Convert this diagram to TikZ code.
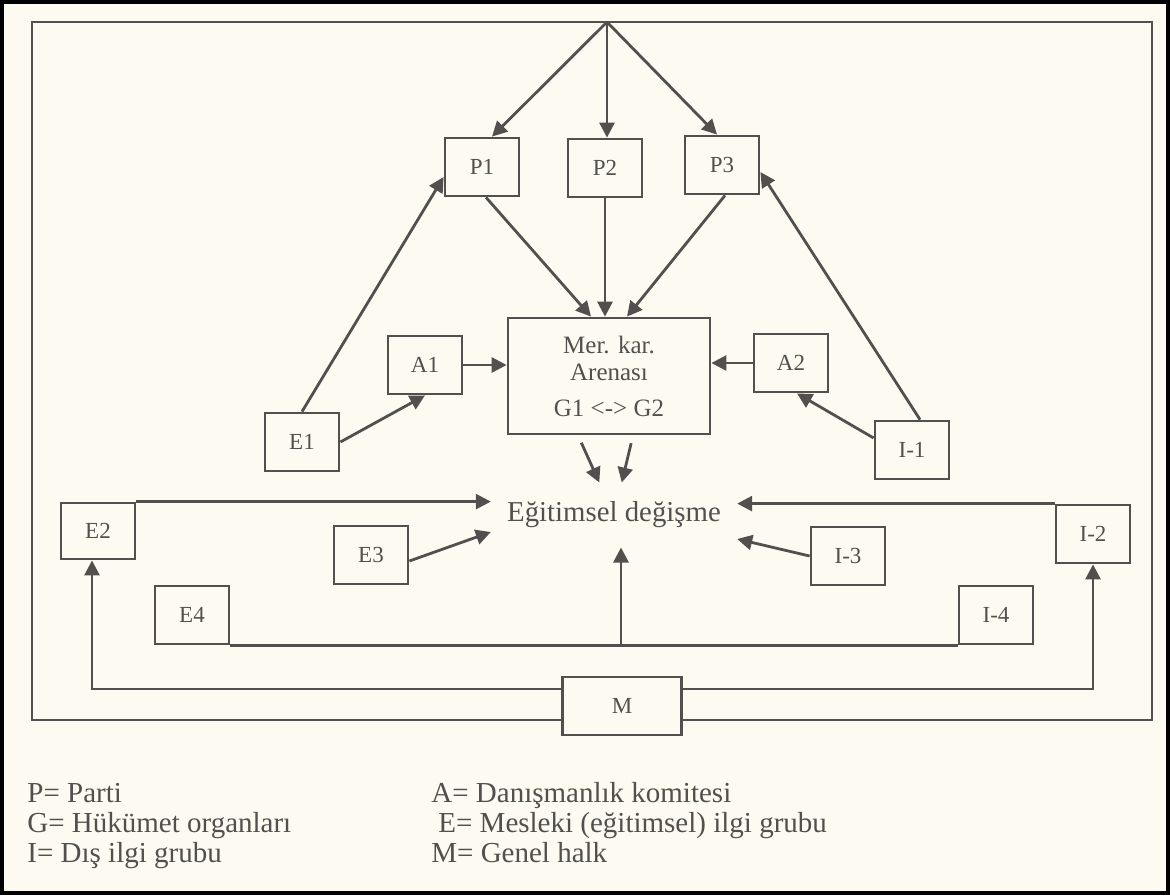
\documentclass[tikz,border=0pt]{standalone}
\usepackage{fontspec}
\setmainfont{Liberation Serif}
\usetikzlibrary{arrows.meta}
\usetikzlibrary{calc}

\definecolor{paper}{RGB}{253,251,241}
\definecolor{ink}{RGB}{82,80,78}

\begin{document}
\begin{tikzpicture}[
      x=0.5pt, y=-0.5pt,
      >={Triangle[length=7.5pt, width=7.5pt]},
      line width=1.4pt,
      grp/.style = {
        rectangle, draw=ink, fill=paper, text=ink,
        minimum width=37pt, minimum height=29pt,
        inner sep=0pt, font=\fontsize{11.5}{13}\selectfont
      },
      link/.style = { ink, -> },
      legend/.style = {
        text=ink, anchor=base west, inner sep=0pt,
        font=\fontsize{14.5}{17}\selectfont
      },
    ]

    \useasboundingbox (0,0) rectangle (1170,895);
    \fill[paper] (0,0) rectangle (1170,895);
    \draw[black, line width=2pt] (2,2) rectangle (1168,893);

    % outer frame of the system
    \draw[ink] (32,22) rectangle (1152,720);
    \coordinate (apex) at (607,22);

    \node[grp] (P1) at (482,167) {P1};
    \node[grp] (P2) at (605,168) {P2};
    \node[grp] (P3) at (722,165) {P3};

    \node[grp, minimum width=101pt, minimum height=58pt, align=center,
          font=\fontsize{12.5}{13.5}\selectfont] (Mer) at (609,376)
          {Mer. kar.\\Arenası\\[4.5pt]G1 <-> G2};

    \node[grp] (A1) at (425,365) {A1};
    \node[grp] (A2) at (791,363) {A2};
    \node[grp] (E1) at (302,442) {E1};
    \node[grp] (I1) at (912,450) {I-1};
    \node[grp, minimum height=28pt] (E2) at (98,531) {E2};
    \node[grp] (I2) at (1093,534) {I-2};
    \node[grp] (E3) at (371,555) {E3};
    \node[grp] (I3) at (848,556) {I-3};
    \node[grp] (E4) at (192,615) {E4};
    \node[grp] (I4) at (996,615) {I-4};
    \node[grp, minimum width=59.5pt] (M) at (622,706) {M};

    \node[text=ink, inner xsep=7.5pt, inner ysep=9pt,
          font=\fontsize{14.4}{16}\selectfont] (Egit) at (614,515) {Eğitimsel değişme};

    \foreach \p/\s in {P1/5pt, P2/1pt, P3/-2.5pt} {
      \draw[link] (apex) -- ([xshift=\s]\p.north);
    }

    \draw[link] ([xshift=2pt]P1.south) -- ([xshift=-9pt]Mer.north);
    \draw[link] (P2) -- (P2 |- Mer.north);
    \draw[link] ([xshift=1.5pt]P3.south) -- ([xshift=9pt]Mer.north);

    \draw[link] (A1) -- (A1 -| Mer.west);
    \draw[link] (A2) -- (A2 -| Mer.east);
    \draw[link] (E1.north) -- ([yshift=-5pt]P1.west);
    \draw[link] (E1.east) -- (A1.south);
    \draw[link] ([xshift=4pt]I1.north) -- ([yshift=-3.5pt]P3.east);
    \draw[link] ([yshift=6pt]I1.west) -- ([xshift=3pt]A2.south);

    \draw[link, shorten <=4pt] ([xshift=-15.5pt]Mer.south) -- (Egit);
    \draw[link, shorten <=4pt] ([xshift=12pt]Mer.south) -- (Egit);

    \draw[link] (E2.north east) -- (E2.north east -| Egit.west);
    \draw[link] (I2.north west) -- (I2.north west -| Egit.east);
    \draw[link] ([yshift=-3pt]E3.east) -- ([yshift=-8.5pt]Egit.west);
    \draw[link] (I3.west) -- ([yshift=-12pt]Egit.east);

    \draw[ink] (E4.south east) -- (I4.south west);
    \draw[link] ([xshift=3.5pt]Egit.south |- E4.south) -- ([xshift=3.5pt]Egit.south);

    \draw[link] ([yshift=8.5pt]M.west) -| ([xshift=-3pt]E2.south);
    \draw[link] ([yshift=8.5pt]M.east) -| (I2.south);

    % legend
    \node[legend] (legP) at (26,802) {P= Parti};
    \node[legend] (legG) at (26,832) {G= Hükümet organları};
    \node[legend] (legI) at (26,862) {I= Dış ilgi grubu};
    \node[legend] (legA) at (430,802) {A= Danışmanlık komitesi};
    \node[legend] (legE) at (437,832) {E= Mesleki (eğitimsel) ilgi grubu};
    \node[legend] (legM) at (430,862) {M= Genel halk};
  \end{tikzpicture}
\end{document}
